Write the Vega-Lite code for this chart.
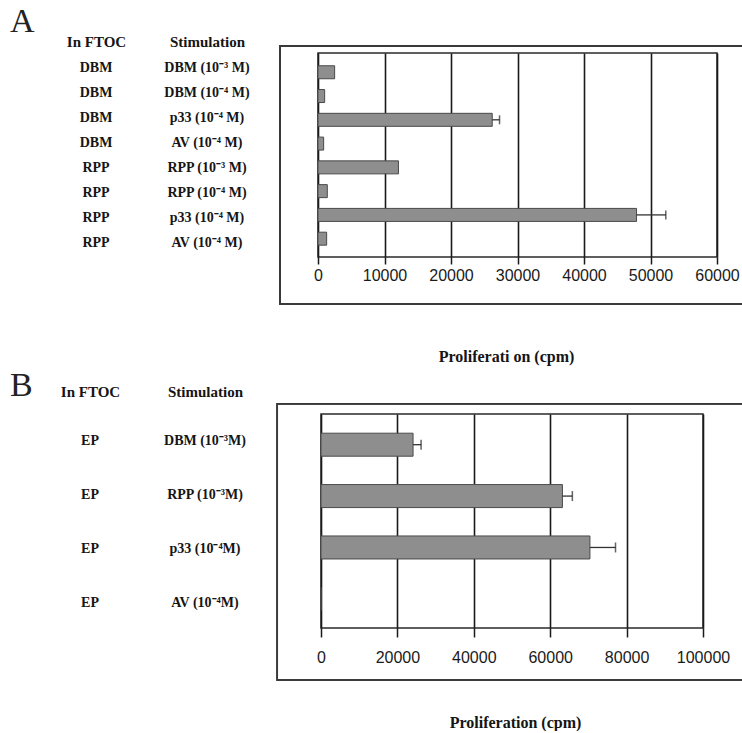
{
  "$schema": "https://vega.github.io/schema/vega-lite/v6.json",
  "background": "white",
  "padding": {"left": 10, "top": 5, "right": 0, "bottom": 0},
  "datasets": {
    "A": [
      {"row": 1, "ftoc": "DBM", "stim": "DBM (10\u207b\u00b3 M)", "cpm": 2500, "hi": null},
      {"row": 2, "ftoc": "DBM", "stim": "DBM (10\u207b\u2074 M)", "cpm": 1000, "hi": null},
      {"row": 3, "ftoc": "DBM", "stim": "p33 (10\u207b\u2074 M)", "cpm": 26200, "hi": 27300},
      {"row": 4, "ftoc": "DBM", "stim": "AV (10\u207b\u2074 M)", "cpm": 850, "hi": null},
      {"row": 5, "ftoc": "RPP", "stim": "RPP (10\u207b\u00b3 M)", "cpm": 12100, "hi": null},
      {"row": 6, "ftoc": "RPP", "stim": "RPP (10\u207b\u2074 M)", "cpm": 1400, "hi": null},
      {"row": 7, "ftoc": "RPP", "stim": "p33 (10\u207b\u2074 M)", "cpm": 47900, "hi": 52300},
      {"row": 8, "ftoc": "RPP", "stim": "AV (10\u207b\u2074 M)", "cpm": 1300, "hi": null}
    ],
    "B": [
      {"row": 1, "ftoc": "EP", "stim": "DBM (10\u207b\u00b3M)", "cpm": 24100, "hi": 26200},
      {"row": 2, "ftoc": "EP", "stim": "RPP (10\u207b\u00b3M)", "cpm": 63200, "hi": 65800},
      {"row": 3, "ftoc": "EP", "stim": "p33 (10\u207b\u2074M)", "cpm": 70400, "hi": 77100},
      {"row": 4, "ftoc": "EP", "stim": "AV (10\u207b\u2074M)", "cpm": 0, "hi": null}
    ]
  },
  "config": {
    "font": "Liberation Serif",
    "text": {"font": "Liberation Serif", "fontWeight": "bold", "fontSize": 14, "color": "#151515"},
    "title": {"font": "Liberation Serif", "fontWeight": "normal", "fontSize": 34, "color": "#222", "anchor": "start", "frame": "group", "baseline": "alphabetic"}
  },
  "bounds": "flush",
  "spacing": 361,
  "vconcat": [
    {
      "bounds": "flush",
      "spacing": 25,
      "hconcat": [
        {
          "width": 283, "height": 204,
          "view": {"stroke": null},
          "title": {"text": "A", "offset": -5},
          "data": {"name": "A"},
          "layer": [
            {
              "mark": {"type": "text"},
              "encoding": {
                "x": {"datum": "In FTOC", "type": "nominal",
                  "scale": {"type": "point", "domain": ["In FTOC", "Stimulation"], "padding": 0.775, "align": 0.5},
                  "axis": {"orient": "top", "title": null, "domain": false, "ticks": false, "grid": false, "labelAngle": 0,
                    "labelFont": "Liberation Serif", "labelFontWeight": "bold", "labelFontSize": 15, "labelColor": "#151515", "labelPadding": 4}},
                "y": {"field": "row", "type": "quantitative", "scale": {"domain": [0.4, 8.56], "reverse": true, "nice": false, "zero": false}, "axis": null},
                "text": {"field": "ftoc"}
              }
            },
            {
              "mark": {"type": "text"},
              "encoding": {
                "x": {"datum": "Stimulation", "type": "nominal"},
                "y": {"field": "row", "type": "quantitative", "axis": null},
                "text": {"field": "stim"}
              }
            }
          ]
        },
        {
          "width": 399, "height": 204,
          "view": {"stroke": "#2a2a2a", "strokeWidth": 1.5},
          "data": {"name": "A"},
          "layer": [
            {
              "mark": {"type": "rect", "fill": null, "stroke": "#3a3a3a", "strokeWidth": 1.5},
              "encoding": {
                "x": {"datum": -5715, "type": "quantitative",
                  "scale": {"domain": [0, 60000], "nice": false, "zero": false},
                  "axis": {"values": [0, 10000, 20000, 30000, 40000, 50000, 60000], "format": "d", "labelOverlap": false, "labelBound": false, "labelFlush": false,
                    "grid": true, "gridColor": "#1a1a1a", "gridWidth": 1.6, "gridOpacity": 1,
                    "domain": false, "tickColor": "#1a1a1a", "tickSize": 7, "tickWidth": 1.5,
                    "labelFont": "Liberation Sans", "labelFontSize": 16, "labelColor": "#1a1a1a", "labelPadding": 3,
                    "title": "Proliferati on (cpm)", "titleFont": "Liberation Serif", "titleFontSize": 16, "titleFontWeight": "bold", "titleColor": "#151515", "titlePadding": 65, "titleX": 188}},
                "x2": {"datum": 65000},
                "y": {"datum": -0.12, "type": "quantitative", "scale": {"domain": [0.4, 8.56], "reverse": true, "nice": false, "zero": false}, "axis": null},
                "y2": {"datum": 10.76}
              }
            },
            {
              "mark": {"type": "bar", "orient": "horizontal", "size": 13, "fill": "#8e8e8e", "stroke": "#4a4a4a", "strokeWidth": 1},
              "encoding": {
                "x": {"field": "cpm", "type": "quantitative"},
                "y": {"field": "row", "type": "quantitative", "axis": null}
              }
            },
            {
              "transform": [{"filter": {"field": "hi", "valid": true}}],
              "mark": {"type": "rule", "stroke": "#333", "strokeWidth": 1.3},
              "encoding": {
                "x": {"field": "cpm", "type": "quantitative"},
                "x2": {"field": "hi"},
                "y": {"field": "row", "type": "quantitative", "axis": null}
              }
            },
            {
              "transform": [{"filter": {"field": "hi", "valid": true}}],
              "mark": {"type": "tick", "orient": "vertical", "size": 9, "thickness": 1.5, "color": "#222"},
              "encoding": {
                "x": {"field": "hi", "type": "quantitative"},
                "y": {"field": "row", "type": "quantitative", "axis": null}
              }
            }
          ]
        }
      ]
    },
    {
      "bounds": "flush",
      "spacing": 36,
      "hconcat": [
        {
          "width": 275, "height": 214,
          "view": {"stroke": null},
          "title": {"text": "B", "offset": -19},
          "data": {"name": "B"},
          "layer": [
            {
              "mark": {"type": "text"},
              "encoding": {
                "x": {"datum": "In FTOC", "type": "nominal",
                  "scale": {"type": "point", "domain": ["In FTOC", "Stimulation"], "padding": 0.696, "align": 0.5},
                  "axis": {"orient": "top", "title": null, "domain": false, "ticks": false, "grid": false, "labelAngle": 0,
                    "labelFont": "Liberation Serif", "labelFontWeight": "bold", "labelFontSize": 15, "labelColor": "#151515", "labelPadding": 15}},
                "y": {"field": "row", "type": "quantitative", "scale": {"domain": [0.5, 4.47], "reverse": true, "nice": false, "zero": false}, "axis": null},
                "text": {"field": "ftoc"}
              }
            },
            {
              "mark": {"type": "text"},
              "encoding": {
                "x": {"datum": "Stimulation", "type": "nominal"},
                "y": {"field": "row", "type": "quantitative", "axis": null},
                "text": {"field": "stim"}
              }
            }
          ]
        },
        {
          "width": 382, "height": 214,
          "view": {"stroke": "#2a2a2a", "strokeWidth": 1.5},
          "data": {"name": "B"},
          "layer": [
            {
              "mark": {"type": "rect", "fill": null, "stroke": "#3a3a3a", "strokeWidth": 1.5},
              "encoding": {
                "x": {"datum": -11450, "type": "quantitative",
                  "scale": {"domain": [0, 100000], "nice": false, "zero": false},
                  "axis": {"values": [0, 20000, 40000, 60000, 80000, 100000], "format": "d", "labelOverlap": false, "labelBound": false, "labelFlush": false,
                    "grid": true, "gridColor": "#1a1a1a", "gridWidth": 1.6, "gridOpacity": 1,
                    "domain": false, "tickColor": "#1a1a1a", "tickSize": 9, "tickWidth": 1.5,
                    "labelFont": "Liberation Sans", "labelFontSize": 16, "labelColor": "#1a1a1a", "labelPadding": 12,
                    "title": "Proliferation (cpm)", "titleFont": "Liberation Serif", "titleFontSize": 16, "titleFontWeight": "bold", "titleColor": "#151515", "titlePadding": 49, "titleX": 194}},
                "x2": {"datum": 112500},
                "y": {"datum": 0.204, "type": "quantitative", "scale": {"domain": [0.5, 4.47], "reverse": true, "nice": false, "zero": false}, "axis": null},
                "y2": {"datum": 5.58}
              }
            },
            {
              "mark": {"type": "bar", "orient": "horizontal", "size": 23, "fill": "#8e8e8e", "stroke": "#4a4a4a", "strokeWidth": 1},
              "encoding": {
                "x": {"field": "cpm", "type": "quantitative"},
                "y": {"field": "row", "type": "quantitative", "axis": null}
              }
            },
            {
              "transform": [{"filter": {"field": "hi", "valid": true}}],
              "mark": {"type": "rule", "stroke": "#333", "strokeWidth": 1.3},
              "encoding": {
                "x": {"field": "cpm", "type": "quantitative"},
                "x2": {"field": "hi"},
                "y": {"field": "row", "type": "quantitative", "axis": null}
              }
            },
            {
              "transform": [{"filter": {"field": "hi", "valid": true}}],
              "mark": {"type": "tick", "orient": "vertical", "size": 10, "thickness": 1.5, "color": "#222"},
              "encoding": {
                "x": {"field": "hi", "type": "quantitative"},
                "y": {"field": "row", "type": "quantitative", "axis": null}
              }
            }
          ]
        }
      ]
    }
  ]
}
